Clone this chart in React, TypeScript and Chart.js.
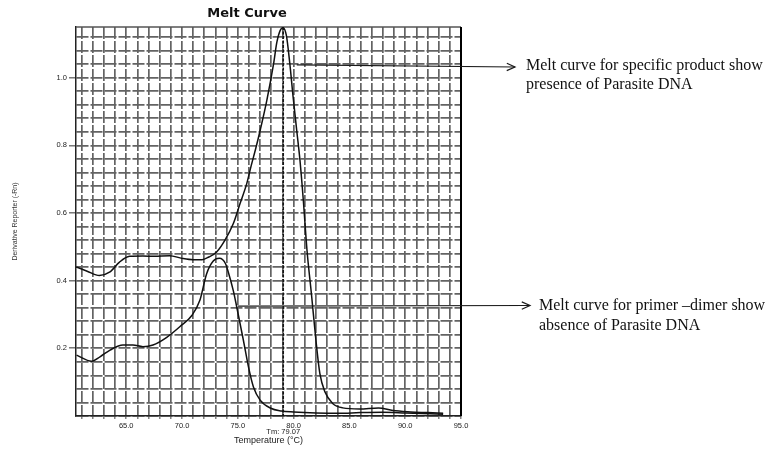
import React, { useEffect, useRef } from 'react';
import { Chart, registerables } from 'chart.js';

Chart.register(...registerables);

// ---- data ----
const specificTemps = [60.5, 61.5, 62.6, 63.5, 64.4, 65.3, 66.5, 67.5, 68.9, 70.0, 71.0, 71.8, 72.4, 73.1, 73.85, 74.6, 75.2, 75.8, 76.2, 76.6, 77.0, 77.6, 78.2, 78.5, 78.8, 79.05, 79.35, 79.65, 79.95, 80.28, 80.57, 80.87, 81.2, 81.6, 82.0, 82.35, 82.8, 83.5, 84.4, 85.9, 87.6, 88.9, 90.5, 92.0, 93.4];
const specificValues = [0.441, 0.428, 0.415, 0.425, 0.455, 0.472, 0.473, 0.472, 0.474, 0.466, 0.462, 0.462, 0.47, 0.485, 0.52, 0.569, 0.628, 0.687, 0.74, 0.79, 0.844, 0.933, 1.04, 1.105, 1.14, 1.148, 1.125, 1.045, 0.945, 0.844, 0.756, 0.638, 0.49, 0.36, 0.224, 0.126, 0.072, 0.037, 0.024, 0.021, 0.024, 0.016, 0.012, 0.01, 0.008];

const dimerTemps = [60.55, 61.9, 62.65, 63.55, 64.7, 65.6, 66.5, 67.4, 68.6, 69.8, 70.9, 71.6, 72.2, 72.8, 73.35, 73.9, 74.15, 74.6, 74.9, 75.5, 75.95, 76.4, 77.0, 77.95, 78.9, 80.0, 82.0, 84.0, 86.0, 88.0, 90.0, 93.4];
const dimerValues = [0.18, 0.162, 0.175, 0.195, 0.21, 0.21, 0.205, 0.21, 0.232, 0.264, 0.298, 0.342, 0.42, 0.458, 0.466, 0.45, 0.425, 0.37, 0.323, 0.224, 0.146, 0.086, 0.047, 0.023, 0.015, 0.012, 0.009, 0.008, 0.01, 0.011, 0.009, 0.005];

const xTickLabels = ['65.0', '70.0', '75.0', '80.0', '85.0', '90.0', '95.0'];
const yTickLabels = ['0.2', '0.4', '0.6', '0.8', '1.0'];

const X_MIN = 60.5;
const X_MAX = 95;
const X_GRID_STEP = 1;
const Y_MIN = 0;
const Y_MAX = 1.15;
const Y_GRID_STEP = 0.04;
const TM_VALUE = 79.07;
const TM_LABEL = 'Tm: 79.07';
const CHART_TITLE = 'Melt Curve';
const X_TITLE = 'Temperature (°C)';
const Y_TITLE = 'Derivative Reporter (-Rn)';

// annotation arrows: start (data) -> end (pixel, next to text)
const arrowStarts = [
  { x: 80.28, y: 1.038 },
  { x: 75.0, y: 0.325 },
];
const arrowEnds = [
  { px: 515, py: 67 },
  { px: 530, py: 305.5 },
];
const annotationTexts = [
  ['Melt curve for specific product show', 'presence of Parasite DNA'],
  ['Melt curve for primer \u2013dimer show', 'absence of Parasite DNA'],
];

function toPoints(xs: number[], ys: number[]) {
  return xs.map((x, i) => ({ x, y: ys[i] }));
}

function gridValues(min: number, max: number, step: number, start: number) {
  const out: number[] = [];
  const n = Math.floor((max - start) / step + 1e-9);
  for (let i = 0; i <= n; i++) out.push(Math.round((start + i * step) * 1e6) / 1e6);
  return out.filter((v) => v >= min - 1e-9);
}

const decorPlugin = {
  id: 'decor',
  beforeDatasetsDraw(chart: any) {
    const { ctx, chartArea: a, scales } = chart;
    const x = scales.x;
    ctx.save();
    // top border
    ctx.strokeStyle = '#555';
    ctx.lineWidth = 1.5;
    ctx.beginPath();
    ctx.moveTo(a.left, a.top);
    ctx.lineTo(a.right, a.top);
    ctx.stroke();
    // right border
    ctx.strokeStyle = '#000';
    ctx.lineWidth = 2;
    ctx.beginPath();
    ctx.moveTo(a.right, a.top);
    ctx.lineTo(a.right, a.bottom);
    ctx.stroke();
    // Tm line
    const tx = x.getPixelForValue(TM_VALUE);
    ctx.strokeStyle = '#151515';
    ctx.lineWidth = 1.6;
    ctx.setLineDash([3, 1.5]);
    ctx.beginPath();
    ctx.moveTo(tx, a.top);
    ctx.lineTo(tx, a.bottom);
    ctx.stroke();
    ctx.restore();
  },
  afterDraw(chart: any) {
    const { ctx, scales } = chart;
    const x = scales.x;
    const y = scales.y;
    ctx.save();
    // title
    ctx.fillStyle = '#111';
    ctx.font = 'bold 13px "DejaVu Sans"';
    ctx.textAlign = 'center';
    ctx.textBaseline = 'middle';
    ctx.fillText(CHART_TITLE, 247, 14);
    // Tm label
    ctx.font = '7.5px "Liberation Sans"';
    ctx.fillStyle = '#222';
    ctx.fillText(TM_LABEL, x.getPixelForValue(TM_VALUE), 431.5);
    // arrows
    ctx.strokeStyle = '#1a1a1a';
    ctx.lineWidth = 1.2;
    arrowStarts.forEach((s, i) => {
      const sx = x.getPixelForValue(s.x);
      const sy = y.getPixelForValue(s.y);
      const e = arrowEnds[i];
      ctx.beginPath();
      ctx.moveTo(sx, sy);
      ctx.lineTo(e.px, e.py);
      ctx.stroke();
      const ang = Math.atan2(e.py - sy, e.px - sx);
      const len = 9;
      const spread = 0.42;
      ctx.beginPath();
      ctx.moveTo(e.px - len * Math.cos(ang - spread), e.py - len * Math.sin(ang - spread));
      ctx.lineTo(e.px, e.py);
      ctx.lineTo(e.px - len * Math.cos(ang + spread), e.py - len * Math.sin(ang + spread));
      ctx.stroke();
    });
    ctx.restore();
  },
};

export default function App() {
  const canvasRef = useRef<HTMLCanvasElement | null>(null);

  useEffect(() => {
    document.body.style.margin = '0';
    const canvas = canvasRef.current;
    if (!canvas) return;
    Chart.defaults.font.family = '"Liberation Sans", Arial, sans-serif';
    const xGrid = gridValues(X_MIN, X_MAX, X_GRID_STEP, Math.ceil(X_MIN));
    const yGrid = gridValues(Y_MIN, Y_MAX, Y_GRID_STEP, Y_MIN);

    const chart = new Chart(canvas, {
      type: 'scatter',
      data: {
        datasets: [
          {
            label: 'Specific product',
            data: toPoints(specificTemps, specificValues),
            showLine: true,
            borderColor: '#111',
            borderWidth: 1.5,
            pointRadius: 0,
            tension: 0.4,
            cubicInterpolationMode: 'monotone',
          },
          {
            label: 'Primer-dimer',
            data: toPoints(dimerTemps, dimerValues),
            showLine: true,
            borderColor: '#111',
            borderWidth: 1.5,
            pointRadius: 0,
            tension: 0.4,
            cubicInterpolationMode: 'monotone',
          },
        ],
      },
      options: {
        animation: false,
        responsive: false,
        events: [],
        layout: { padding: { top: 27, right: 314, left: 0, bottom: 0 } },
        plugins: {
          legend: { display: false },
          tooltip: { enabled: false },
          title: { display: false },
        },
        scales: {
          x: {
            type: 'linear',
            min: X_MIN,
            max: X_MAX,
            afterBuildTicks: (scale: any) => {
              scale.ticks = xGrid.map((v) => ({ value: v }));
            },
            afterFit: (scale: any) => {
              scale.height = 35;
            },
            ticks: {
              autoSkip: false,
              maxRotation: 0,
              padding: 2,
              color: '#222',
              font: { size: 7.5 },
              callback: (value: any) => {
                const l = xTickLabels.find((s) => Math.abs(parseFloat(s) - Number(value)) < 1e-6);
                return l ?? '';
              },
            },
            grid: {
              color: '#636363',
              lineWidth: 1.7,
              drawTicks: true,
              tickLength: 3,
              tickColor: '#444',
              tickWidth: 1,
            },
            border: { display: true, color: '#222', width: 1.5, dash: [12, 2] },
            title: {
              display: true,
              text: X_TITLE,
              color: '#222',
              font: { size: 9 },
              padding: { top: 0, bottom: 5 },
            },
          },
          y: {
            type: 'linear',
            min: Y_MIN,
            max: Y_MAX,
            afterBuildTicks: (scale: any) => {
              scale.ticks = yGrid.map((v) => ({ value: v }));
            },
            afterFit: (scale: any) => {
              scale.width = 76;
            },
            ticks: {
              autoSkip: false,
              padding: 2,
              color: '#222',
              font: { size: 7.5 },
              callback: (value: any) => {
                const l = yTickLabels.find((s) => Math.abs(parseFloat(s) - Number(value)) < 1e-6);
                return l ?? '';
              },
            },
            grid: {
              color: '#636363',
              lineWidth: 1.7,
              drawTicks: true,
              tickLength: 7,
              tickWidth: 1,
              tickColor: (ctx: any) => (ctx.tick && ctx.tick.label ? '#333' : 'rgba(0,0,0,0)'),
            },
            border: { display: true, color: '#222', width: 1.5, dash: [12, 2] },
            title: {
              display: true,
              text: Y_TITLE,
              color: '#333',
              font: { size: 7 },
              padding: { top: 11, bottom: 0 },
            },
          },
        },
      },
      plugins: [decorPlugin],
    } as any);

    return () => chart.destroy();
  }, []);

  const textStyle: React.CSSProperties = {
    position: 'absolute',
    fontFamily: '"Liberation Serif", "Times New Roman", serif',
    fontSize: 16,
    color: '#111',
    whiteSpace: 'pre',
  };

  return (
    <div style={{ position: 'relative', width: 775, height: 451, background: '#fff' }}>
      <canvas ref={canvasRef} width={775} height={451} style={{ display: 'block' }} />
      <div style={{ ...textStyle, left: 526, top: 56, lineHeight: '18.6px' }}>
        {annotationTexts[0][0]}
        <br />
        {annotationTexts[0][1]}
      </div>
      <div style={{ ...textStyle, left: 539, top: 295, lineHeight: '20px' }}>
        {annotationTexts[1][0]}
        <br />
        {annotationTexts[1][1]}
      </div>
    </div>
  );
}
